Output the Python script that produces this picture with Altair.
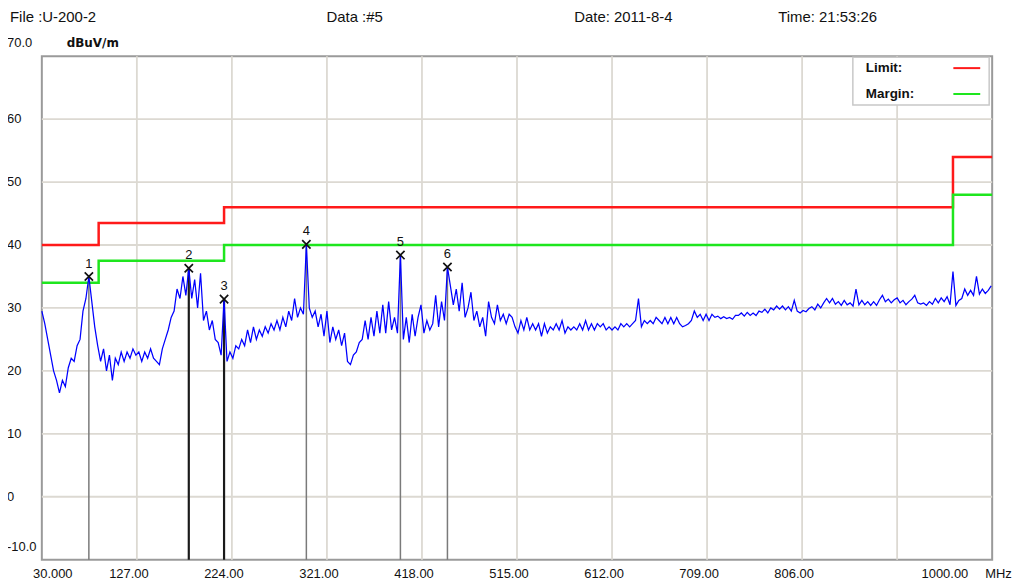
import altair as alt
import pandas as pd

FONT = "Liberation Sans"

# ---- header texts ----
HEADER_FILE = "File :U-200-2"
HEADER_DATA = "Data :#5"
HEADER_DATE = "Date: 2011-8-4"
HEADER_TIME = "Time: 21:53:26"
Y_UNIT = "dBuV/m"
X_UNIT = "MHz"

# ---- axes ----
X_GRID = [127, 224, 321, 418, 515, 612, 709, 806, 903]
X_TICKS = [30, 127, 224, 321, 418, 515, 612, 709, 806, 1000]
X_TICK_LABELS = ["30.000", "127.00", "224.00", "321.00", "418.00", "515.00",
                 "612.00", "709.00", "806.00", "1000.00"]
Y_GRID = [0, 10, 20, 30, 40, 50, 60]
Y_TICKS = [70, 60, 50, 40, 30, 20, 10, 0, -10]
Y_TICK_LABELS = ["70.0", "60", "50", "40", "30", "20", "10", "0", "-10.0"]

# ---- limit / margin (step lines) ----
LIMIT_EDGES = [30, 88, 216, 960, 1000]
LIMIT_LEVELS = [40, 43.5, 46, 54, 54]
MARGIN_LEVELS = [34, 37.5, 40, 48, 48]

# ---- measured trace (sweep 30 MHz .. 999 MHz, 3 MHz step) ----
SWEEP_START = 30
SWEEP_STEP = 3
TRACE_LEVEL = [
    29.5, 27.5, 25, 22.5, 20, 18.5, 16.5, 18.5, 17.5, 20.5, 22, 21.5, 24, 25, 29.5, 31.5, 35,
    31, 27, 24, 21.5, 23.5, 20, 22.5, 18.5, 22, 21, 23, 21.5, 23, 22, 23.5, 22.5, 23, 21.5,
    23, 22, 23.5, 22, 21.5, 21, 23.5, 25, 26.5, 28.5, 29.5, 33, 31.5, 35, 32,
    36.3,
    31.5, 34.5, 30, 35.5, 28, 29.5, 26.5, 28, 25, 24.5, 22.5,
    31.4,
    21.5, 23, 22, 24, 23.5, 25, 24, 26.5, 24.5, 27, 25, 26.5, 25.5, 27, 26, 27.5, 26.5, 28,
    26.5, 28.5, 27, 29.5, 28, 31.5, 28.5, 30, 29,
    40.1,
    30, 28.5, 29.5, 27, 29, 25.5, 29.5, 24.5, 27, 25, 26.5, 24, 26,
    21.5, 21, 22.5, 23, 24.5, 25, 28, 25, 28.5, 25.5, 29.5, 26, 30.5, 26, 31, 26.5, 28.5, 26,
    38.4,
    25, 28.5, 24.5, 29, 25.5, 28.5, 30.5, 26, 28, 26.5, 27.5, 32, 27, 31, 28,
    36.5,
    33.5, 30.5, 33, 29.5, 34, 28.5, 30, 32.5, 28, 29.5, 27, 28.5, 25.5, 31, 28.5, 27.5, 30.5,
    28, 29, 27.5, 29, 28.5, 27, 26, 28, 26.5, 28.5, 26.5, 27.5, 26.5, 27.5, 25.5, 27.5, 26,
    27, 26.5, 27.5, 26.5, 28, 26, 27, 26.5, 27, 26.5, 27.5, 26.5, 28, 26.5, 27.5, 26.5, 27.5,
    27, 27.5, 26.5, 27, 26.5, 27, 26.5, 27.5, 27, 27.5, 27, 27.5, 28,
    31.5,
    27, 28, 27.5, 28, 27.5, 28.5, 28,
    27.5, 28.5, 27.5, 28.5, 27.5, 28.5, 27.5, 27, 27.2, 27.5,
    28, 29.5, 28.5, 29, 28, 29, 28, 29, 28.5, 28.7,
    28.3, 28.6, 28.3, 28.5, 28.2, 28.8, 28.8, 29.2, 28.7, 29.3,
    28.8, 29.2, 28.8, 29.5, 29.3, 29.8, 29.2, 30, 29.7, 30.3,
    29.8, 30.3, 29.7, 30.2, 29.5, 31.2, 29.5, 29.2, 29.6, 29.4,
    29.9, 30.2, 29.7, 30.6, 30, 30.8, 31.5, 30.8, 31.5, 30.6,
    31, 30.4, 31.2, 30.5, 30.8, 30.3, 33, 30.5, 31.2, 30.5,
    31, 30.4, 31, 30.4, 31.3, 32, 31, 31.4, 30.8, 31.3,
    31.6, 30.8, 31.2, 30.5, 31, 31.4, 32, 30.8, 30.6, 30.8,
    30.4, 31, 30.6, 31.5, 30.8, 31.6, 31, 31.8, 30.5, 35.8,
    30.4, 31.2, 31.5, 33, 32, 32.8, 32, 35, 32.2, 33,
    32.3, 32.8, 33.5,
]
TRACE_FREQ = [SWEEP_START + SWEEP_STEP * i for i in range(len(TRACE_LEVEL))]

# ---- markers ----
MARKER_NO = [1, 2, 3, 4, 5, 6]
MARKER_FREQ = [78, 180, 216, 300, 396, 444]
MARKER_LEVEL = [35, 36.3, 31.4, 40.1, 38.4, 36.5]

# ---- legend ----
LEGEND_NAMES = ["Limit:", "Margin:"]

trace_df = pd.DataFrame({"f": TRACE_FREQ, "v": TRACE_LEVEL})
limit_df = pd.DataFrame({"f": LIMIT_EDGES, "v": LIMIT_LEVELS})
margin_df = pd.DataFrame({"f": LIMIT_EDGES, "v": MARGIN_LEVELS})
marker_df = pd.DataFrame({"n": MARKER_NO, "f": MARKER_FREQ, "v": MARKER_LEVEL})
xg_df = pd.DataFrame({"f": X_GRID})
yg_df = pd.DataFrame({"v": Y_GRID})
xt_df = pd.DataFrame({"f": X_TICKS, "t": X_TICK_LABELS})
yt_df = pd.DataFrame({"v": Y_TICKS, "t": Y_TICK_LABELS})

xs = alt.Scale(domain=[30, 1000], nice=False, zero=False)
ys = alt.Scale(domain=[-10, 70], nice=False, zero=False)
X = lambda f="f": alt.X(f"{f}:Q", scale=xs, axis=None)
Y = lambda f="v": alt.Y(f"{f}:Q", scale=ys, axis=None)

W, H = 955, 506
GRID_COL = "#dcd9d2"


def txt(text, x, y, size=13, weight="normal", align="left", family=FONT):
    return alt.Chart(alt.Data(values=[{"t": text}])).mark_text(
        align=align, baseline="middle", font=family, fontSize=size,
        fontWeight=weight, color="#111"
    ).encode(text="t:N", x=alt.value(x), y=alt.value(y))


one = alt.Data(values=[{"k": 1}])

xgrid = alt.Chart(xg_df).mark_rule(color=GRID_COL, strokeWidth=1.8).encode(x=X())
ygrid = alt.Chart(yg_df).mark_rule(color=GRID_COL, strokeWidth=1.8).encode(y=Y())

limit = alt.Chart(limit_df).mark_line(interpolate="step-after", color="#ff1a1a",
                                      strokeWidth=2.5).encode(x=X(), y=Y())
margin = alt.Chart(margin_df).mark_line(interpolate="step-after", color="#1ee61e",
                                        strokeWidth=2.5).encode(x=X(), y=Y())

mk_cond = "datum.n == 2 || datum.n == 3"
mrules = alt.Chart(marker_df).mark_rule().encode(
    x=X(), y=Y(), y2=alt.datum(-10),
    color=alt.condition(mk_cond, alt.value("#1a1a1a"), alt.value("#7a7a7a")),
    strokeWidth=alt.condition(mk_cond, alt.value(2.2), alt.value(1.5)),
)

trace = alt.Chart(trace_df).mark_line(color="#0000ff", strokeWidth=1.25).encode(x=X(), y=Y())

mx = alt.Chart(marker_df).mark_point(
    shape="M-1,-1L1,1M-1,1L1,-1", filled=False, color="#111", strokeWidth=1.7,
    size=70, opacity=1
).encode(x=X(), y=Y())
mnum = alt.Chart(marker_df).mark_text(
    dy=-13, font=FONT, fontSize=13, color="#111", baseline="middle"
).encode(x=X(), y=Y(), text="n:N")

# x tick labels
xt_mid = alt.Chart(xt_df).transform_filter("datum.f > 30 && datum.f < 1000").mark_text(
    dx=-8, font=FONT, fontSize=13, color="#111", baseline="middle", align="center"
).encode(x=X(), y=alt.value(H + 14), text="t:N")
xt_first = alt.Chart(xt_df).transform_filter("datum.f == 30").mark_text(
    dx=11, font=FONT, fontSize=13, color="#111", baseline="middle", align="center"
).encode(x=X(), y=alt.value(H + 14), text="t:N")
xt_last = alt.Chart(xt_df).transform_filter("datum.f == 1000").mark_text(
    dx=-24, font=FONT, fontSize=13, color="#111", baseline="middle", align="right"
).encode(x=X(), y=alt.value(H + 14), text="t:N")

# y tick labels
yt_mid = alt.Chart(yt_df).transform_filter("datum.v > -10 && datum.v < 70").mark_text(
    font=FONT, fontSize=13, color="#111", baseline="middle", align="left"
).encode(x=alt.value(-35), y=Y(), text="t:N")
yt_end = alt.Chart(yt_df).transform_filter("datum.v == -10 || datum.v == 70").mark_text(
    dy=-13, font=FONT, fontSize=13, color="#111", baseline="middle", align="left"
).encode(x=alt.value(-35), y=Y(), text="t:N")

# legend
leg_box = alt.Chart(one).mark_rect(fill="white", stroke="#c8c8c8", strokeWidth=1.5).encode(
    x=alt.value(815), x2=alt.value(952), y=alt.value(1), y2=alt.value(49))
leg_red = alt.Chart(one).mark_rule(color="#ff1a1a", strokeWidth=2).encode(
    x=alt.value(916), x2=alt.value(943), y=alt.value(12))
leg_green = alt.Chart(one).mark_rule(color="#1ee61e", strokeWidth=2).encode(
    x=alt.value(916), x2=alt.value(943), y=alt.value(38))
leg_t1 = txt(LEGEND_NAMES[0], 828, 12, size=13.5, weight="bold")
leg_t2 = txt(LEGEND_NAMES[1], 828, 38, size=13.5, weight="bold")

# header
h1 = txt(HEADER_FILE, -32, -39, size=15)
h2 = txt(HEADER_DATA, 286, -39, size=15)
h3 = txt(HEADER_DATE, 535, -39, size=15)
h4 = txt(HEADER_TIME, 740, -39, size=15)
yunit = txt(Y_UNIT, 25, -13, size=12, weight="bold", family="DejaVu Sans")
xunit = txt(X_UNIT, 948, H + 14, size=13)

chart = alt.layer(
    xgrid, ygrid, leg_box, limit, margin, mrules, trace, mx, mnum,
    xt_mid, xt_first, xt_last, yt_mid, yt_end,
    leg_red, leg_green, leg_t1, leg_t2,
    h1, h2, h3, h4, yunit, xunit,
).properties(
    width=W, height=H,
    autosize=alt.AutoSizeParams(type="none"),
    padding={"left": 34, "top": 47, "right": 33, "bottom": 22},
    background="white",
).configure_view(stroke="#9a9a9a", strokeWidth=2)

chart.save("out.html", embed_options={"renderer": "svg", "actions": False})
